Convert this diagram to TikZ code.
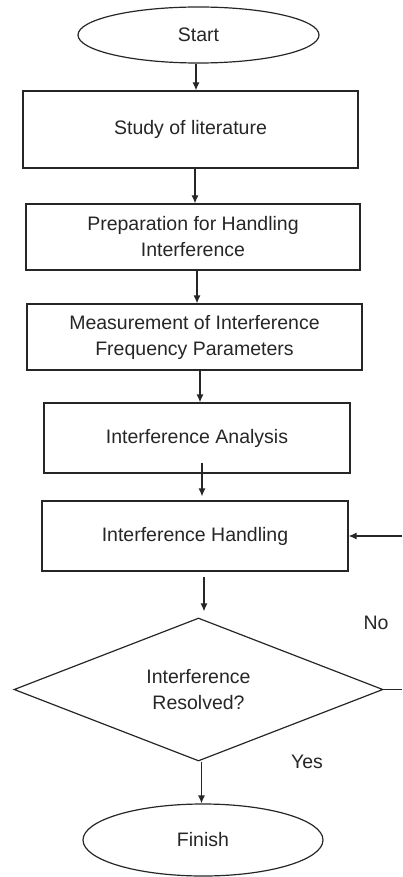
\documentclass[tikz,border=0pt]{standalone}
\usepackage{fontspec}
\setmainfont{Liberation Sans}
\usetikzlibrary{shapes.geometric,arrows.meta}
\begin{document}
\begin{tikzpicture}[x=1pt,y=-1pt,
  every node/.style={font=\fontsize{19.5pt}{26pt}\selectfont, text=black!85},
  box/.style={draw=black!85, line width=1.2pt, rectangle, inner sep=0pt, align=center},
  term/.style={draw=black!85, line width=1.2pt, ellipse, inner sep=0pt, align=center},
  dec/.style={draw=black!85, line width=1.2pt, diamond, aspect=2.58, inner sep=0pt, align=center},
  arr/.style={draw=black!85, line width=1.2pt, -{Latex[length=8pt,width=7pt]}},
  ln/.style={draw=black!85, line width=1.2pt},
  lbl/.style={inner sep=0pt}]
\useasboundingbox (0,0) rectangle (402,877);
\node[term, minimum width=241pt, minimum height=56pt] (start) at (198.5,35) {Start};
\node[box, minimum width=335pt, minimum height=77pt] (study) at (190.5,129.5) {Study of literature};
\node[box, minimum width=334pt, minimum height=66pt] (prep) at (193,237) {Preparation for Handling\\Interference};
\node[box, minimum width=335pt, minimum height=66pt] (meas) at (194.5,337) {Measurement of Interference\\Frequency Parameters};
\node[box, minimum width=306pt, minimum height=70pt] (anal) at (197,438) {Interference Analysis};
\node[box, minimum width=306pt, minimum height=70pt] (hand) at (195,536) {Interference Handling};
\node[dec, minimum width=369pt, minimum height=143pt] (dia) at (198.5,689.5) {Interference\\Resolved?};
\node[term, minimum width=240pt, minimum height=72pt] (fin) at (203,840) {Finish};
\node[lbl] (no) at (376,623) {No};
\node[lbl] (yes) at (307,762) {Yes};
\coordinate (fbin) at (402,536);
\coordinate (fbout) at (402,689.5);
\draw[arr] ([xshift=-2.5pt]start.south) -- ([xshift=-2.5pt]start.south |- study.north);
\draw[arr] ([xshift=4.5pt]study.south) -- ([xshift=4.5pt]study.south |- prep.north);
\draw[arr] ([xshift=4pt]prep.south) -- ([xshift=4pt]prep.south |- meas.north);
\draw[arr] ([xshift=5.5pt]meas.south) -- ([xshift=5.5pt]meas.south |- anal.north);
\draw[arr] ([xshift=5pt,yshift=11pt]anal.south) -- ([xshift=5pt,yshift=4pt]anal.south |- hand.north);
\draw[arr] ([xshift=9pt,yshift=-5pt]hand.south) -- ([xshift=9pt,yshift=6pt]hand.south |- dia.north);
\draw[arr] ([xshift=3pt]dia.south) -- ([xshift=3pt]dia.south |- fin.north);
\draw[arr] (fbin) -- (hand.east);
\draw[ln] (dia.east) -- (fbout);
\end{tikzpicture}
\end{document}
